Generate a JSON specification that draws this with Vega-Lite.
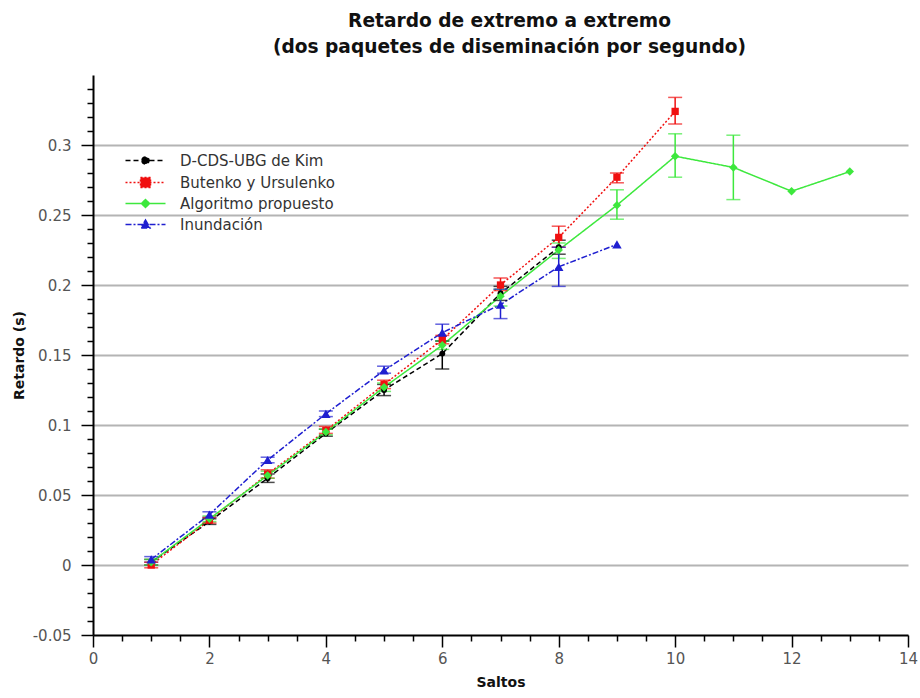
{
  "$schema": "https://vega.github.io/schema/vega-lite/v6.json",
  "width": 815,
  "height": 560,
  "autosize": {"type": "none"},
  "padding": {"left": 93, "top": 75, "right": 12, "bottom": 63},
  "background": "white",
  "config": {
    "font": "DejaVu Sans",
    "view": {"stroke": null},
    "axis": {"labelFont": "DejaVu Sans", "titleFont": "DejaVu Sans"}
  },
  "title": {
    "text": ["Retardo de extremo a extremo", "(dos paquetes de diseminación por segundo)"],
    "font": "DejaVu Sans",
    "fontSize": 18.6,
    "fontWeight": "bold",
    "color": "#111111",
    "lineHeight": 26,
    "anchor": "middle",
    "dx": 9,
    "offset": 18
  },
  "resolve": {"axis": {"x": "independent", "y": "independent"}, "legend": {"color": "independent"}},
  "data": {
    "values": [
      {"series": "D-CDS-UBG de Kim", "saltos": 1, "retardo": 0.002, "lo": 0.000, "hi": 0.004},
      {"series": "D-CDS-UBG de Kim", "saltos": 2, "retardo": 0.031, "lo": 0.029, "hi": 0.033},
      {"series": "D-CDS-UBG de Kim", "saltos": 3, "retardo": 0.062, "lo": 0.059, "hi": 0.065},
      {"series": "D-CDS-UBG de Kim", "saltos": 4, "retardo": 0.094, "lo": 0.092, "hi": 0.097},
      {"series": "D-CDS-UBG de Kim", "saltos": 5, "retardo": 0.125, "lo": 0.121, "hi": 0.129},
      {"series": "D-CDS-UBG de Kim", "saltos": 6, "retardo": 0.151, "lo": 0.140, "hi": 0.160},
      {"series": "D-CDS-UBG de Kim", "saltos": 7, "retardo": 0.194, "lo": 0.189, "hi": 0.199},
      {"series": "D-CDS-UBG de Kim", "saltos": 8, "retardo": 0.227, "lo": 0.222, "hi": 0.232},
      {"series": "Butenko y Ursulenko", "saltos": 1, "retardo": 0.000, "lo": -0.002, "hi": 0.002},
      {"series": "Butenko y Ursulenko", "saltos": 2, "retardo": 0.032, "lo": 0.030, "hi": 0.034},
      {"series": "Butenko y Ursulenko", "saltos": 3, "retardo": 0.065, "lo": 0.062, "hi": 0.068},
      {"series": "Butenko y Ursulenko", "saltos": 4, "retardo": 0.096, "lo": 0.094, "hi": 0.099},
      {"series": "Butenko y Ursulenko", "saltos": 5, "retardo": 0.129, "lo": 0.126, "hi": 0.132},
      {"series": "Butenko y Ursulenko", "saltos": 6, "retardo": 0.161, "lo": 0.158, "hi": 0.164},
      {"series": "Butenko y Ursulenko", "saltos": 7, "retardo": 0.200, "lo": 0.196, "hi": 0.205},
      {"series": "Butenko y Ursulenko", "saltos": 8, "retardo": 0.234, "lo": 0.227, "hi": 0.242},
      {"series": "Butenko y Ursulenko", "saltos": 9, "retardo": 0.277, "lo": 0.273, "hi": 0.280},
      {"series": "Butenko y Ursulenko", "saltos": 10, "retardo": 0.324, "lo": 0.315, "hi": 0.334},
      {"series": "Algoritmo propuesto", "saltos": 1, "retardo": 0.002, "lo": 0.000, "hi": 0.004},
      {"series": "Algoritmo propuesto", "saltos": 2, "retardo": 0.033, "lo": 0.031, "hi": 0.035},
      {"series": "Algoritmo propuesto", "saltos": 3, "retardo": 0.064, "lo": 0.062, "hi": 0.067},
      {"series": "Algoritmo propuesto", "saltos": 4, "retardo": 0.095, "lo": 0.093, "hi": 0.097},
      {"series": "Algoritmo propuesto", "saltos": 5, "retardo": 0.127, "lo": 0.124, "hi": 0.130},
      {"series": "Algoritmo propuesto", "saltos": 6, "retardo": 0.157, "lo": 0.154, "hi": 0.160},
      {"series": "Algoritmo propuesto", "saltos": 7, "retardo": 0.192, "lo": 0.185, "hi": 0.197},
      {"series": "Algoritmo propuesto", "saltos": 8, "retardo": 0.225, "lo": 0.219, "hi": 0.230},
      {"series": "Algoritmo propuesto", "saltos": 9, "retardo": 0.257, "lo": 0.247, "hi": 0.268},
      {"series": "Algoritmo propuesto", "saltos": 10, "retardo": 0.292, "lo": 0.277, "hi": 0.308},
      {"series": "Algoritmo propuesto", "saltos": 11, "retardo": 0.284, "lo": 0.261, "hi": 0.307},
      {"series": "Algoritmo propuesto", "saltos": 12, "retardo": 0.267, "lo": null, "hi": null},
      {"series": "Algoritmo propuesto", "saltos": 13, "retardo": 0.281, "lo": null, "hi": null},
      {"series": "Inundación", "saltos": 1, "retardo": 0.004, "lo": 0.002, "hi": 0.006},
      {"series": "Inundación", "saltos": 2, "retardo": 0.036, "lo": 0.034, "hi": 0.038},
      {"series": "Inundación", "saltos": 3, "retardo": 0.075, "lo": 0.073, "hi": 0.077},
      {"series": "Inundación", "saltos": 4, "retardo": 0.108, "lo": 0.106, "hi": 0.110},
      {"series": "Inundación", "saltos": 5, "retardo": 0.139, "lo": 0.137, "hi": 0.142},
      {"series": "Inundación", "saltos": 6, "retardo": 0.166, "lo": 0.160, "hi": 0.172},
      {"series": "Inundación", "saltos": 7, "retardo": 0.186, "lo": 0.176, "hi": 0.197},
      {"series": "Inundación", "saltos": 8, "retardo": 0.213, "lo": 0.199, "hi": 0.227},
      {"series": "Inundación", "saltos": 9, "retardo": 0.229, "lo": null, "hi": null}
    ]
  },
  "layer": [
    {
      "mark": {"type": "line", "strokeWidth": 1.5},
      "encoding": {
        "x": {
          "field": "saltos", "type": "quantitative",
          "scale": {"domain": [0, 14], "nice": false, "zero": false},
          "axis": {
            "title": "Saltos",
            "titleFontSize": 14, "titleFontWeight": "bold", "titleColor": "#111111", "titlePadding": 9,
            "values": [0,0.5,1,1.5,2,2.5,3,3.5,4,4.5,5,5.5,6,6.5,7,7.5,8,8.5,9,9.5,10,10.5,11,11.5,12,12.5,13,13.5,14],
            "labelExpr": "abs(datum.value/2 - round(datum.value/2)) < 0.001 ? toString(datum.value) : ''",
            "labelFontSize": 15, "labelColor": "#555555", "labelOverlap": false, "labelFlush": false, "labelPadding": 4,
            "grid": false,
            "domainColor": "#000000", "domainWidth": 2,
            "tickColor": "#000000", "tickWidth": 1.5,
            "tickSize": {"condition": {"test": "abs(datum.value/2 - round(datum.value/2)) < 0.001", "value": 12}, "value": 6}
          }
        },
        "y": {
          "field": "retardo", "type": "quantitative",
          "scale": {"domain": [-0.05, 0.35], "nice": false, "zero": false},
          "axis": {
            "title": "Retardo (s)",
            "titleFontSize": 14, "titleFontWeight": "bold", "titleColor": "#111111", "titlePadding": 6,
            "values": [-0.05,-0.04,-0.03,-0.02,-0.01,0,0.01,0.02,0.03,0.04,0.05,0.06,0.07,0.08,0.09,0.1,0.11,0.12,0.13,0.14,0.15,0.16,0.17,0.18,0.19,0.2,0.21,0.22,0.23,0.24,0.25,0.26,0.27,0.28,0.29,0.3,0.31,0.32,0.33,0.34],
            "labelExpr": "abs(datum.value*20 - round(datum.value*20)) < 0.001 ? toString(round(datum.value*100)/100) : ''",
            "labelFontSize": 15, "labelColor": "#555555", "labelOverlap": false, "labelFlush": false, "labelPadding": 10,
            "grid": true, "gridColor": "#b4b4b4", "gridWidth": 2,
            "gridOpacity": {"condition": {"test": "abs(datum.value*20 - round(datum.value*20)) < 0.001 && datum.value > -0.04", "value": 1}, "value": 0},
            "domainColor": "#000000", "domainWidth": 2,
            "tickColor": "#000000", "tickWidth": 1.5,
            "tickSize": {"condition": {"test": "abs(datum.value*20 - round(datum.value*20)) < 0.001", "value": 12}, "value": 6}
          }
        },
        "color": {
          "field": "series", "type": "nominal",
          "scale": {
            "domain": ["D-CDS-UBG de Kim", "Butenko y Ursulenko", "Algoritmo propuesto", "Inundación"],
            "range": ["#000000", "#f01010", "#3de83d", "#1f1fd0"]
          },
          "legend": {
            "title": null,
            "orient": "none",
            "legendX": 30,
            "legendY": 78,
            "symbolSize": 100,
            "symbolStrokeWidth": 1.5,
            "labelFontSize": 15,
            "labelColor": "#333333",
            "labelFont": "DejaVu Sans",
            "labelOffset": 42,
            "rowPadding": 5,
            "encode": {
              "symbols": {
                "update": {
                  "shape": {"signal": "datum.value === 'D-CDS-UBG de Kim' ? 'M-1,0H7M2.3,0A0.7,0.7 0 1,0 3.7,0A0.7,0.7 0 1,0 2.3,0Z' : datum.value === 'Butenko y Ursulenko' ? 'M-1,0H7M2,-1H4V1H2Z' : datum.value === 'Algoritmo propuesto' ? 'M-1,0H7M3,-0.8L3.8,0L3,0.8L2.2,0Z' : 'M-1,0H7M3,-0.9L3.9,0.7L2.1,0.7Z'"},
                  "fill": {"signal": "datum.value === 'D-CDS-UBG de Kim' ? '#000000' : datum.value === 'Butenko y Ursulenko' ? '#f01010' : datum.value === 'Algoritmo propuesto' ? '#3de83d' : '#1f1fd0'"},
                  "stroke": {"signal": "datum.value === 'D-CDS-UBG de Kim' ? '#000000' : datum.value === 'Butenko y Ursulenko' ? '#f01010' : datum.value === 'Algoritmo propuesto' ? '#3de83d' : '#1f1fd0'"},
                  "strokeDash": {"signal": "datum.value === 'D-CDS-UBG de Kim' ? [5,3] : datum.value === 'Butenko y Ursulenko' ? [2,2] : datum.value === 'Algoritmo propuesto' ? [1,0] : [6,2,2,2]"},
                  "strokeWidth": {"value": 1.5},
                  "strokeOpacity": {"value": 1},
                  "fillOpacity": {"value": 1},
                  "opacity": {"value": 1}
                }
              }
            }
          }
        },
        "strokeDash": {
          "field": "series", "type": "nominal",
          "scale": {
            "domain": ["D-CDS-UBG de Kim", "Butenko y Ursulenko", "Algoritmo propuesto", "Inundación"],
            "range": [[5,3],[2,2],[1,0],[6,2,2,2]]
          },
          "legend": null
        }
      }
    },
    {
      "transform": [{"filter": "datum.lo != null"}],
      "mark": {"type": "errorbar", "ticks": true, "size": 14, "thickness": 1.5},
      "encoding": {
        "x": {"field": "saltos", "type": "quantitative", "axis": null},
        "y": {"field": "lo", "type": "quantitative", "axis": null},
        "y2": {"field": "hi"},
        "color": {"field": "series", "type": "nominal", "legend": null}
      }
    },
    {
      "mark": {"type": "point", "filled": true, "opacity": 1},
      "encoding": {
        "x": {"field": "saltos", "type": "quantitative", "axis": null},
        "y": {"field": "retardo", "type": "quantitative", "axis": null},
        "color": {"field": "series", "type": "nominal", "legend": null},
        "shape": {
          "field": "series", "type": "nominal",
          "scale": {
            "domain": ["D-CDS-UBG de Kim", "Butenko y Ursulenko", "Algoritmo propuesto", "Inundación"],
            "range": ["circle", "square", "diamond", "triangle-up"]
          },
          "legend": null
        },
        "size": {
          "field": "series", "type": "nominal",
          "scale": {
            "domain": ["D-CDS-UBG de Kim", "Butenko y Ursulenko", "Algoritmo propuesto", "Inundación"],
            "range": [35, 90, 35, 45]
          },
          "legend": null
        }
      }
    }
  ]
}
